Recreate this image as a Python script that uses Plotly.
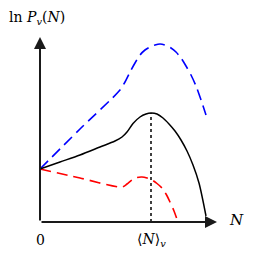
import plotly.graph_objects as go

# Data (arbitrary units)
black_N = [0, 2, 4, 6, 7.5, 8.2, 8.7, 9.3, 10.0, 10.6, 11.1, 11.7, 12.3, 12.9, 13.5, 14.1, 14.7, 15.3, 15.9, 16.6]
black_lnP = [5.3, 6.0, 6.7, 7.5, 8.1, 8.5, 9.0, 9.85, 10.5, 10.8, 10.9, 10.8, 10.4, 9.8, 9.1, 8.2, 7.1, 5.7, 3.9, 0.6]

blue_N = [0, 4, 8.0, 8.5, 9.0, 9.5, 10.0, 10.5, 11.0, 11.5, 12.0, 12.5, 13.1, 13.6, 14.1, 14.6, 15.1, 15.6, 16.0, 16.6]
blue_lnP = [5.3, 9.3, 13.2, 14.0, 15.0, 15.9, 16.7, 17.2, 17.5, 17.7, 17.8, 17.7, 17.4, 17.0, 16.4, 15.6, 14.7, 13.6, 12.5, 10.7]

red_N = [0, 4, 8.2, 8.7, 9.2, 9.7, 10.2, 10.7, 11.2, 11.7, 12.2, 12.6, 13.0, 13.4, 13.8]
red_lnP = [5.3, 4.4, 3.5, 3.8, 4.2, 4.45, 4.5, 4.4, 4.2, 3.85, 3.4, 2.8, 2.0, 1.1, 0.0]

mean_N = 11.1
mean_lnP = 10.9

x_axis_end = 17.7
y_axis_end = 18.5

fig = go.Figure()
fig.add_trace(go.Scatter(x=blue_N, y=blue_lnP, mode="lines",
                         line=dict(color="#0000ff", width=1.6, dash="11px,6px", shape="spline", smoothing=0.8)))
fig.add_trace(go.Scatter(x=red_N, y=red_lnP, mode="lines",
                         line=dict(color="#ff0000", width=1.6, dash="11px,6px", shape="spline", smoothing=0.8)))
fig.add_trace(go.Scatter(x=black_N, y=black_lnP, mode="lines",
                         line=dict(color="black", width=1.5, shape="spline", smoothing=0.8)))
fig.add_trace(go.Scatter(x=[mean_N, mean_N], y=[0, mean_lnP], mode="lines",
                         line=dict(color="black", width=1.5, dash="3px,3px")))

axis_color = "#1a1a1a"
fig.add_annotation(x=x_axis_end, y=0, ax=0, ay=0, xref="x", yref="y", axref="x", ayref="y",
                   showarrow=True, arrowhead=2, arrowsize=1.2, arrowwidth=2, arrowcolor=axis_color, text="")
fig.add_annotation(x=0, y=y_axis_end, ax=0, ay=0, xref="x", yref="y", axref="x", ayref="y",
                   showarrow=True, arrowhead=2, arrowsize=1.2, arrowwidth=2, arrowcolor=axis_color, text="")

font = dict(family="DejaVu Serif", size=14, color="black")
fig.add_annotation(x=-0.3, y=20.4, text="ln <i>P</i><sub><i>v</i></sub>(<i>N</i>)", showarrow=False, font=font)
fig.add_annotation(x=19.6, y=0.2, text="<i>N</i>", showarrow=False, font=dict(family="DejaVu Serif", size=15, color="black"))
fig.add_annotation(x=0, y=-1.8, text="0", showarrow=False, font=font)
fig.add_annotation(x=mean_N, y=-1.8, text="⟨<i>N</i>⟩<sub><i>v</i></sub>", showarrow=False, font=font)

fig.update_layout(width=248, height=248, margin=dict(l=0, r=0, t=0, b=0),
                  plot_bgcolor="white", paper_bgcolor="white", showlegend=False,
                  xaxis=dict(range=[-3.2, 21.6], visible=False),
                  yaxis=dict(range=[-3.4, 21.4], visible=False))
fig.write_html("out.html")
